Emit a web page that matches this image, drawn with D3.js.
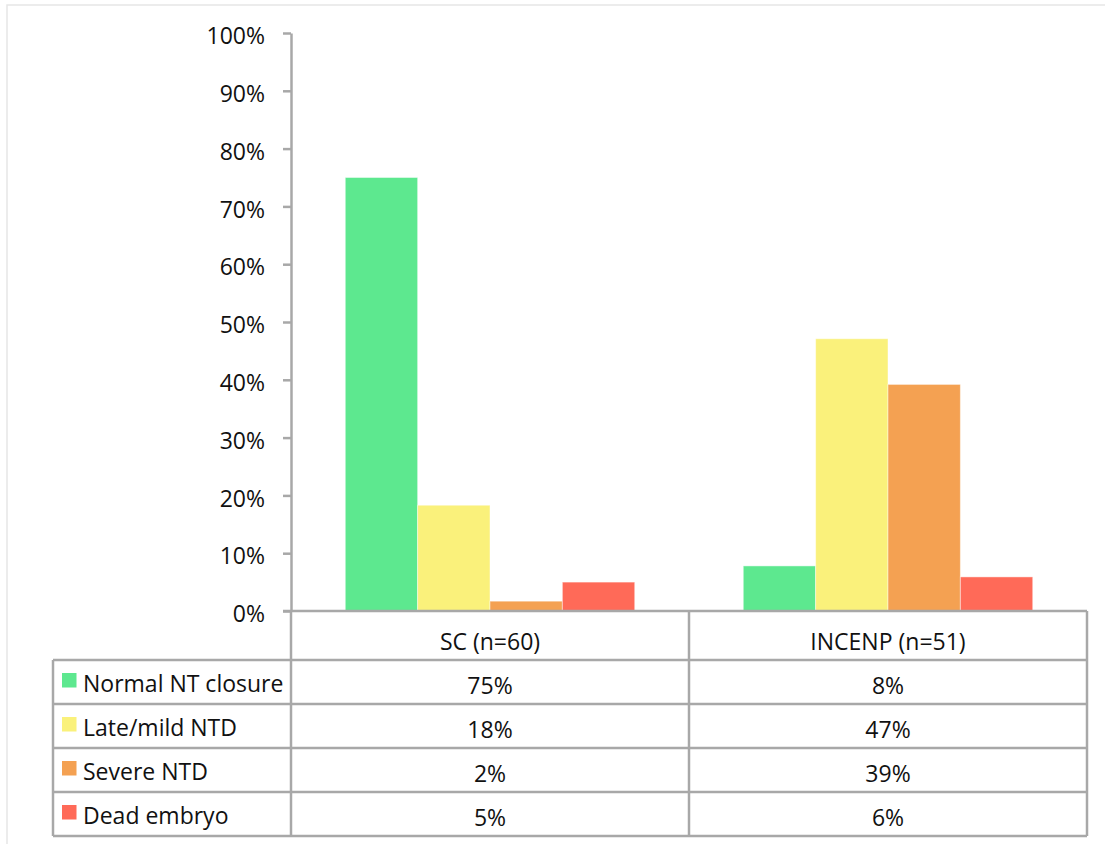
<!DOCTYPE html>
<html>
<head>
<meta charset="utf-8">
<script src="https://cdn.jsdelivr.net/npm/d3@7"></script>
<style>
  html, body { margin: 0; padding: 0; background: #fff; }
  svg { display: block; }
  text { font-family: "Open Sans", "DejaVu Sans", sans-serif; fill: #111; }
</style>
</head>
<body>
<svg id="chart" width="1105" height="844"></svg>
<script>
// Groups (columns of the data table) and outcome series
const groups = ["SC (n=60)", "INCENP (n=51)"];
const series = ["Normal NT closure", "Late/mild NTD", "Severe NTD", "Dead embryo"];
const colors = ["#5de88f", "#faf17b", "#f4a152", "#ff6a58"];

// Fraction of embryos per outcome, one array per group
const scValues = [0.75, 0.183, 0.017, 0.05];
const incenpValues = [0.078, 0.471, 0.392, 0.059];

// Y axis ticks
const yTicks = [0, 0.1, 0.2, 0.3, 0.4, 0.5, 0.6, 0.7, 0.8, 0.9, 1.0];

const valuesByGroup = [scValues, incenpValues];
const fmt = d3.format(".0%");
const fontSize = 23;

const svg = d3.select("#chart");
const gridColor = "#a8a8a8";

// Faint outer frame
svg.append("rect")
  .attr("x", 7).attr("y", 5)
  .attr("width", 1120).attr("height", 860)
  .attr("fill", "none").attr("stroke", "#e6e6e6").attr("stroke-width", 1.5);

// Plot area
const plotLeft = 291, plotRight = 1087, plotTop = 33, plotBottom = 611;

const y = d3.scaleLinear().domain([0, 1]).range([plotBottom, plotTop]);
const x = d3.scaleBand().domain(groups).range([plotLeft, plotRight]).padding(0);
const xs = d3.scaleBand().domain(series).range([0, x.bandwidth()])
  .paddingInner(0).paddingOuter(0.75);

// Bars
const barData = [];
groups.forEach((g, gi) => {
  series.forEach((s, si) => {
    barData.push({ group: g, series: s, value: valuesByGroup[gi][si], color: colors[si] });
  });
});

svg.append("g").selectAll("rect")
  .data(barData)
  .join("rect")
  .attr("x", d => x(d.group) + xs(d.series))
  .attr("y", d => y(d.value))
  .attr("width", xs.bandwidth())
  .attr("height", d => y(0) - y(d.value))
  .attr("fill", d => d.color)
  .attr("stroke", "rgba(255,255,255,0.45)")
  .attr("stroke-width", 1);

// Y axis
const yAxis = d3.axisLeft(y)
  .tickValues(yTicks)
  .tickFormat(fmt)
  .tickSize(8)
  .tickSizeOuter(0)
  .tickPadding(18);

const yg = svg.append("g")
  .attr("transform", `translate(${plotLeft},0)`)
  .call(yAxis);
yg.select(".domain").attr("stroke", gridColor).attr("stroke-width", 2.5);
yg.selectAll(".tick line").attr("stroke", gridColor).attr("stroke-width", 2.5);
yg.selectAll(".tick text")
  .attr("font-size", fontSize)
  .attr("font-family", "\"Open Sans\", sans-serif")
  .attr("fill", "#111")
  .attr("dy", "0.62em")
  .attr("y", -3.5);

// Data table below the plot
const headerH = 49, rowH = 44;
const tableTop = plotBottom;
const legendLeft = 53;
const rowTops = series.map((s, i) => tableTop + headerH + i * rowH);
const tableBottom = tableTop + headerH + series.length * rowH;

const table = svg.append("g");
const line = (x1, y1, x2, y2) => table.append("line")
  .attr("x1", x1).attr("y1", y1).attr("x2", x2).attr("y2", y2)
  .attr("stroke", gridColor).attr("stroke-width", 2.5);

// Horizontal rules
line(plotLeft - 8, tableTop, plotRight, tableTop);
line(legendLeft, tableTop + headerH, plotRight, tableTop + headerH);
rowTops.slice(1).forEach(t => line(legendLeft, t, plotRight, t));
line(legendLeft, tableBottom, plotRight, tableBottom);

// Vertical rules
line(legendLeft, tableTop + headerH, legendLeft, tableBottom);
line(plotLeft, tableTop, plotLeft, tableBottom);
groups.slice(1).forEach(g => line(x(g), tableTop, x(g), tableBottom));
line(plotRight, tableTop, plotRight, tableBottom);

// Header texts
table.selectAll("text.header")
  .data(groups)
  .join("text")
  .attr("class", "header")
  .attr("x", d => x(d) + x.bandwidth() / 2)
  .attr("y", tableTop + 39)
  .attr("text-anchor", "middle")
  .attr("font-size", fontSize)
  .text(d => d);

// Legend keys
series.forEach((s, i) => {
  table.append("rect")
    .attr("x", 62).attr("y", rowTops[i] + 13)
    .attr("width", 14.5).attr("height", 14.5)
    .attr("fill", colors[i]);
  table.append("text")
    .attr("x", 83).attr("y", rowTops[i] + 32)
    .attr("font-size", fontSize)
    .text(s);
});

// Value cells
groups.forEach((g, gi) => {
  series.forEach((s, si) => {
    table.append("text")
      .attr("x", x(g) + x.bandwidth() / 2)
      .attr("y", rowTops[si] + 33.5)
      .attr("text-anchor", "middle")
      .attr("font-size", fontSize)
      .text(fmt(valuesByGroup[gi][si]));
  });
});
</script>
</body>
</html>
